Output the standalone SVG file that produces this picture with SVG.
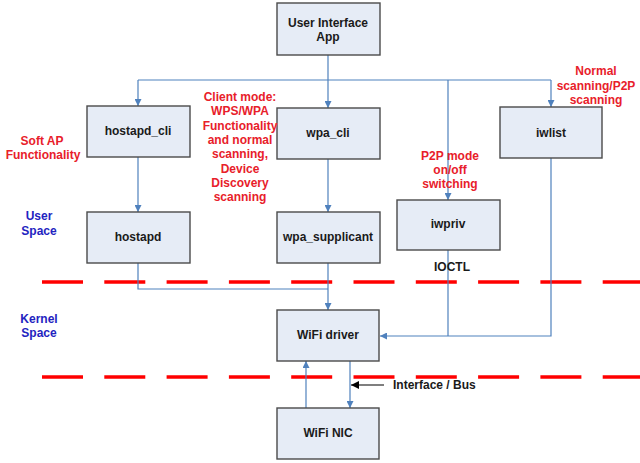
<svg xmlns="http://www.w3.org/2000/svg" width="640" height="463" viewBox="0 0 640 463">
<style>
.box{fill:#e6ecf6;stroke:#4a4a4a;stroke-width:1.4}
.t{font-family:"Liberation Sans",Arial,sans-serif;font-weight:bold;font-size:12px;text-anchor:middle;fill:#1a1a1a}
.red{font-family:"Liberation Sans",Arial,sans-serif;font-weight:bold;font-size:12px;text-anchor:middle;fill:#e8202a}
.blue{font-family:"Liberation Sans",Arial,sans-serif;font-weight:bold;font-size:12px;text-anchor:middle;fill:#2323c0}
.c{fill:none;stroke:#4f81bd;stroke-width:1.2}
.dash{stroke:#ff0000;stroke-width:3.5;stroke-dasharray:41 21.3}
</style>
<defs>
<marker id="ah" viewBox="0 0 10 10" refX="10" refY="5" markerWidth="7" markerHeight="7" markerUnits="userSpaceOnUse" orient="auto">
<path d="M0,0 L10,5 L0,10 z" fill="#4f81bd"/>
</marker>
<marker id="ahk" viewBox="0 0 10 10" refX="10" refY="5" markerWidth="8" markerHeight="8" markerUnits="userSpaceOnUse" orient="auto">
<path d="M0,0 L10,5 L0,10 z" fill="#000"/>
</marker>
</defs>
<rect width="640" height="463" fill="#fff"/>
<g id="dashes">
<line class="dash" x1="42" y1="282" x2="640" y2="282"/>
<line class="dash" x1="42" y1="377" x2="640" y2="377"/>
</g>
<g id="connectors">
<path class="c" d="M328,55 V80"/>
<path class="c" d="M138,80 H551"/>
<path class="c" d="M138,80 V106" marker-end="url(#ah)"/>
<path class="c" d="M328,80 V108" marker-end="url(#ah)"/>
<path class="c" d="M448,80 V200" marker-end="url(#ah)"/>
<path class="c" d="M551,80 V107" marker-end="url(#ah)"/>
<path class="c" d="M138,157 V212" marker-end="url(#ah)"/>
<path class="c" d="M328,159 V212" marker-end="url(#ah)"/>
<path class="c" d="M138,263 V289 H328"/>
<path class="c" d="M328,263 V310" marker-end="url(#ah)"/>
<path class="c" d="M448,250 V336"/>
<path class="c" d="M551,158 V336 H380" marker-end="url(#ah)"/>
<path class="c" d="M350,361 V408" marker-end="url(#ah)"/>
<path class="c" d="M306,408 V361" marker-end="url(#ah)"/>
<path d="M384,385 H351" stroke="#000" stroke-width="1.2" marker-end="url(#ahk)"/>
</g>
<g id="ui_app"><rect class="box" x="277" y="3" width="103" height="52"/><text class="t" x="328" y="27">User Interface</text><text class="t" x="328" y="41">App</text></g>
<g id="hostapd_cli"><rect class="box" x="87" y="106" width="103" height="51"/><text class="t" x="138" y="135">hostapd_cli</text></g>
<g id="wpa_cli"><rect class="box" x="277" y="108" width="103" height="51"/><text class="t" x="328" y="137">wpa_cli</text></g>
<g id="iwlist"><rect class="box" x="500" y="107" width="102" height="51"/><text class="t" x="551" y="137">iwlist</text></g>
<g id="hostapd"><rect class="box" x="87" y="212" width="103" height="51"/><text class="t" x="138" y="241">hostapd</text></g>
<g id="wpa_supplicant"><rect class="box" x="277" y="212" width="103" height="51"/><text class="t" x="328" y="241">wpa_supplicant</text></g>
<g id="iwpriv"><rect class="box" x="397" y="200" width="103" height="50"/><text class="t" x="448" y="228">iwpriv</text></g>
<g id="wifi_driver"><rect class="box" x="277" y="310" width="102" height="51"/><text class="t" x="328" y="339">WiFi driver</text></g>
<g id="wifi_nic"><rect class="box" x="277" y="408" width="102" height="51"/><text class="t" x="328" y="437">WiFi NIC</text></g>
<g id="labels">
<text class="t" x="452" y="271">IOCTL</text>
<text class="t" x="393" y="389" text-anchor="start" style="text-anchor:start">Interface / Bus</text>
<text class="red" x="42" y="145">Soft AP</text>
<text class="red" x="43" y="159">Functionality</text>
<text class="red" x="240" y="101">Client mode:</text>
<text class="red" x="240" y="115">WPS/WPA</text>
<text class="red" x="240" y="129.5">Functionality</text>
<text class="red" x="240" y="143.5">and normal</text>
<text class="red" x="240" y="158">scanning,</text>
<text class="red" x="240" y="172.5">Device</text>
<text class="red" x="240" y="187">Discovery</text>
<text class="red" x="240" y="201">scanning</text>
<text class="red" x="596" y="75">Normal</text>
<text class="red" x="596" y="89.5">scanning/P2P</text>
<text class="red" x="596" y="103.5">scanning</text>
<text class="red" x="450" y="160">P2P mode</text>
<text class="red" x="450" y="174">on/off</text>
<text class="red" x="450" y="188">switching</text>
<text class="blue" x="39" y="220">User</text>
<text class="blue" x="39" y="235">Space</text>
<text class="blue" x="39" y="322.5">Kernel</text>
<text class="blue" x="39" y="336.5">Space</text>
</g>
</svg>
